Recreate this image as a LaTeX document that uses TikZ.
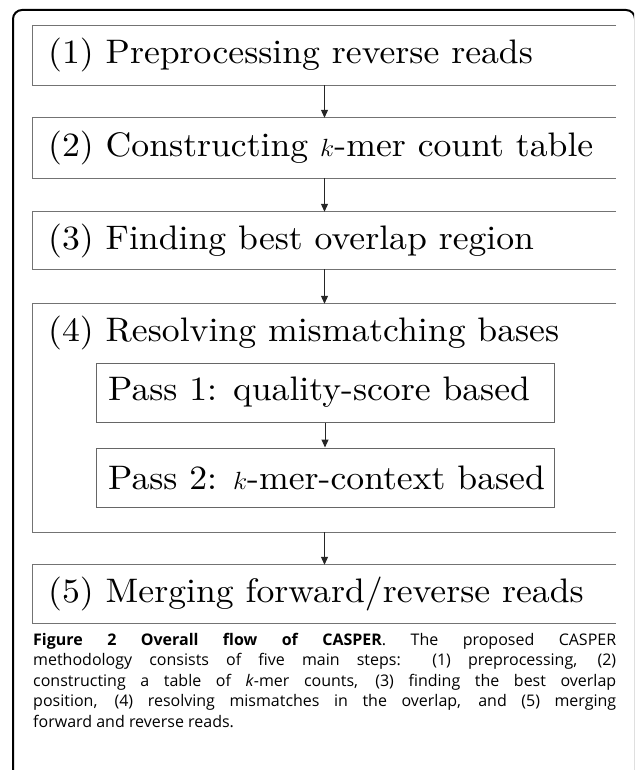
\documentclass[tikz,border=0pt]{standalone}
\usepackage{fontspec}
\usepackage{graphicx}
\newfontfamily\capfont{Open Sans}
\newfontfamily\cmten{lmroman10-regular}[Extension=.otf]
\newcommand{\hstr}[1]{\scalebox{1.05}[1]{#1}}
\usetikzlibrary{arrows.meta}
\tikzset{
  openbox/.style={draw=none, minimum width=583pt, inner sep=0pt},
  passbox/.style={draw=black!60, line width=1pt, minimum width=458pt, minimum height=59pt, inner sep=0pt},
  boxline/.style={draw=black!55, line width=1.2pt},
  boxtext/.style={anchor=west, inner sep=0pt, font=\cmten\fontsize{34}{40}\selectfont},
  flow/.style={draw=black!85, line width=1pt, -{Triangle[length=8pt,width=7pt]}},
  frame/.style={draw=black, line width=2pt, rounded corners=9pt},
  captext/.style={anchor=north west, inner sep=0pt, text width=583pt, align=justify,
    font=\capfont\fontsize{16}{20.5}\selectfont}
}
\begin{document}
\begin{tikzpicture}[x=1pt,y=-1pt]
\useasboundingbox (0,0) rectangle (634,770);
\begin{scope}
\clip (0,0) rectangle (634,770);
\draw[frame] (13,10) rectangle (635,820);
\end{scope}
% outer boxes (open on the right)
\node[openbox, minimum height=59pt] (b1) at (324.5,55.5) {};
\node[openbox, minimum height=60pt] (b2) at (324.5,148) {};
\node[openbox, minimum height=57pt] (b3) at (324.5,240.5) {};
\node[openbox, minimum height=228pt] (b4) at (324.5,418) {};
\node[openbox, minimum height=58pt] (b5) at (324.5,594) {};
\foreach \b in {b1,b2,b3,b4,b5}{
  \draw[boxline] (\b.north east) -- (\b.north west) -- (\b.south west) -- (\b.south east);
}
\node[boxtext] (t1) at (48,55.5) {\hstr{(1) Preprocessing reverse reads}};
\node[boxtext] (t2) at (48,148) {\hstr{(2) Constructing $k$-mer count table}};
\node[boxtext] (t3) at (48,240.5) {\hstr{(3) Finding best overlap region}};
\node[boxtext] (t4) at (48,333) {\hstr{(4) Resolving mismatching bases}};
\node[boxtext] (t5) at (48,594) {\hstr{(5) Merging forward/reverse reads}};
% inner passes
\node[passbox] (p1) at (325,392.5) {};
\node[passbox] (p2) at (325,477.5) {};
\node[boxtext] (tp1) at (108,392.5) {\hstr{Pass 1: quality-score based}};
\node[boxtext] (tp2) at (108,477.5) {\hstr{Pass 2: $k$-mer-context based}};
% connectors
\draw[flow] (b1.south) -- (b2.north);
\draw[flow] (b2.south) -- (b3.north);
\draw[flow] (b3.south) -- (b4.north);
\draw[flow] (p1.south) -- (p2.north);
\draw[flow] (b4.south) -- (b5.north);
% caption
\node[captext] (cap) at (33,633) {\textbf{Figure 2 Overall flow of CASPER}. The proposed CASPER\linebreak
methodology consists of five main steps: (1) preprocessing, (2)\linebreak
constructing a table of \textit{k}-mer counts, (3) finding the best overlap\linebreak
position, (4) resolving mismatches in the overlap, and (5) merging\linebreak
forward and reverse reads.};
\end{tikzpicture}
\end{document}
